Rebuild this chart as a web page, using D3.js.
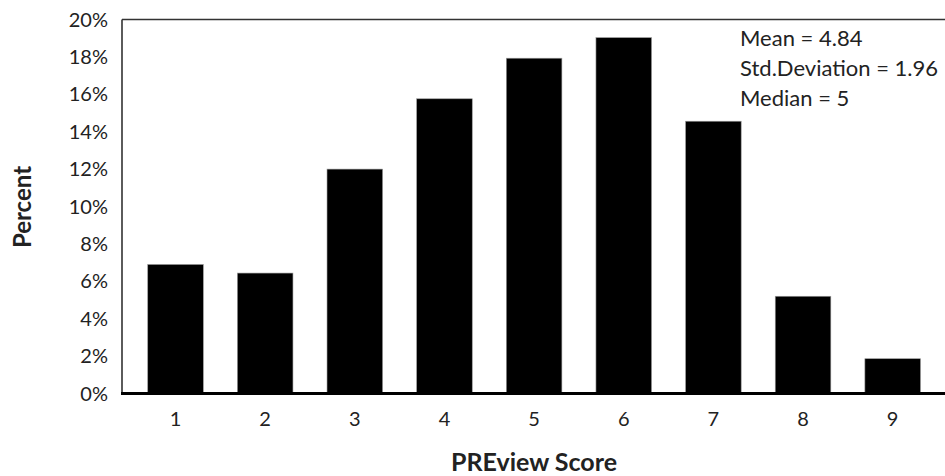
<!DOCTYPE html>
<html>
<head>
<meta charset="utf-8">
<script src="https://cdn.jsdelivr.net/npm/d3@7"></script>
<style>
  body { margin: 0; background: #fff; }
  text { font-family: Lato, "Open Sans", sans-serif; fill: #222; }
</style>
</head>
<body>
<script>
const width = 945;
const height = 476;

// histogram of scores (percent of total)
const scores = ['1', '2', '3', '4', '5', '6', '7', '8', '9'];
const percents = [0.069, 0.0644, 0.120, 0.1576, 0.1793, 0.1903, 0.1456, 0.052, 0.0186];
const yTicks = [0, 0.02, 0.04, 0.06, 0.08, 0.10, 0.12, 0.14, 0.16, 0.18, 0.20];
const stats = ['Mean = 4.84', 'Std.Deviation = 1.96', 'Median = 5'];

const svg = d3.create('svg')
  .attr('width', width)
  .attr('height', height)
  .style('background-color', '#fff');

document.body.appendChild(svg.node());

const plotLeft = 122, plotRight = 945, plotTop = 19.5, plotBottom = 393.5;

const x = d3.scaleBand()
  .domain(scores)
  .range([130.7, 937.5])
  .paddingInner(0.38)
  .paddingOuter(0.19);

const y = d3.scaleLinear()
  .domain([0, 0.20])
  .range([plotBottom, plotTop]);

// bars
svg.selectAll('.bar')
  .data(percents)
  .enter()
  .append('rect')
  .attr('class', 'bar')
  .attr('x', (d, i) => x(scores[i]))
  .attr('y', d => y(d))
  .attr('width', x.bandwidth())
  .attr('height', d => plotBottom - y(d))
  .attr('fill', '#000')
  .attr('stroke', '#999')
  .attr('stroke-width', 0.6);

// frame lines
svg.append('line')
  .attr('x1', plotLeft).attr('x2', plotRight)
  .attr('y1', plotTop).attr('y2', plotTop)
  .attr('stroke', '#333').attr('stroke-width', 1.6);
svg.append('line')
  .attr('x1', plotLeft).attr('x2', plotLeft)
  .attr('y1', plotTop).attr('y2', plotBottom)
  .attr('stroke', '#333').attr('stroke-width', 1.6);
svg.append('line')
  .attr('x1', plotLeft - 1).attr('x2', plotRight)
  .attr('y1', plotBottom).attr('y2', plotBottom)
  .attr('stroke', '#000').attr('stroke-width', 3.2);

// y tick labels
svg.selectAll('.ytick')
  .data(yTicks)
  .enter()
  .append('text')
  .attr('class', 'ytick')
  .attr('x', 108)
  .attr('y', d => y(d))
  .attr('dy', '0.35em')
  .attr('text-anchor', 'end')
  .attr('font-size', 20)
  .text(d => d3.format('.0%')(d));

// x tick labels
svg.selectAll('.xtick')
  .data(scores)
  .enter()
  .append('text')
  .attr('class', 'xtick')
  .attr('x', d => x(d) + x.bandwidth() / 2)
  .attr('y', 426)
  .attr('text-anchor', 'middle')
  .attr('font-size', 20)
  .text(d => d);

// axis titles
svg.append('text')
  .attr('transform', 'translate(31,207) rotate(-90)')
  .attr('text-anchor', 'middle')
  .attr('font-size', 24)
  .attr('font-weight', 'bold')
  .text('Percent');

svg.append('text')
  .attr('x', 534)
  .attr('y', 471)
  .attr('text-anchor', 'middle')
  .attr('font-size', 25)
  .attr('font-weight', 'bold')
  .text('PREview Score');

// summary stats
svg.selectAll('.stat')
  .data(stats)
  .enter()
  .append('text')
  .attr('class', 'stat')
  .attr('x', 740)
  .attr('y', (d, i) => 38 + i * 30)
  .attr('dy', '0.35em')
  .attr('font-size', 22)
  .text(d => d);
</script>
</body>
</html>
